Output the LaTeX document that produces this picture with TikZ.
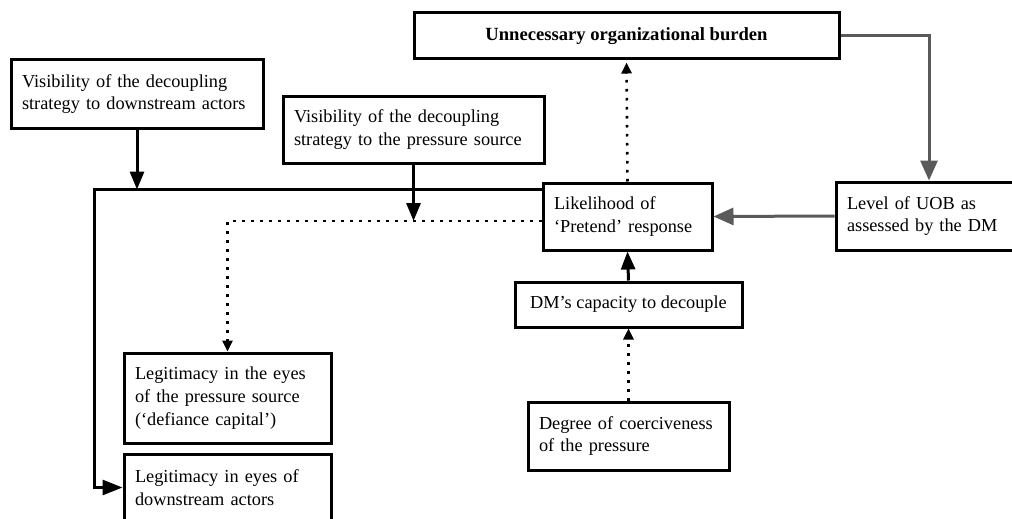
\documentclass[tikz,border=0pt]{standalone}
\usepackage{fontspec}
\setmainfont{Liberation Serif}
\usetikzlibrary{arrows.meta,calc}
\definecolor{arrgray}{RGB}{90,90,90}
\begin{document}
\begin{tikzpicture}[x=1pt,y=-1pt,
  box/.style={draw=black, line width=3pt, inner xsep=11pt, inner ysep=4pt,
    font=\fontsize{18.3}{22.8}\selectfont, align=left},
  conn/.style={line width=3pt},
  arr/.style={conn, -{Triangle[length=18pt,width=14pt]}},
  dotarr/.style={line width=2.6pt, dash pattern=on 2.6pt off 6.4pt, -{Triangle[length=11pt,width=10pt]}},
  grayarr/.style={draw=arrgray, line width=3pt, -{Triangle[length=20pt,width=17pt]}},
]
\useasboundingbox (0,0) rectangle (1012,519);

\node[box, align=center, minimum width=425pt, minimum height=46pt, font=\fontsize{18.6}{22}\selectfont\bfseries] (U) at (626.5,36) {Unnecessary organizational burden};
\node[box, text width=230pt, minimum height=68pt] (A) at (137,94) {Visibility of the decoupling\\strategy to downstream actors};
\node[box, text width=239pt, minimum height=67pt] (B) at (413.5,129.5) {Visibility of the decoupling\\strategy to the pressure source};
\node[box, text width=147pt, minimum height=67pt] (L) at (627.5,216.5) {Likelihood of\\‘Pretend’ response};
\node[box, text width=170pt, minimum height=68pt] (Lev) at (932,216) {Level of UOB as\\assessed by the DM};
\node[box, align=center, minimum width=227pt, minimum height=45pt] (DM) at (628.5,304.5) {DM’s capacity to decouple};
\node[box, text width=179pt, minimum height=68pt] (Deg) at (628.5,436) {Degree of coerciveness\\of the pressure};
\node[box, text width=185pt, minimum height=90pt] (Leg1) at (227.5,398) {Legitimacy in the eyes\\of the pressure source\\(‘defiance capital’)};
\node[box, text width=185pt, minimum height=67pt] (Leg2) at (227.5,487.5) {Legitimacy in eyes of\\downstream actors};

\coordinate (jl) at ($(L.north west)+(0,8)$);
\coordinate (jd) at ($(L.west)+(0,4.5)$);

\draw[conn, -{Triangle[length=20pt,width=15pt]}] (jl) -| ([xshift=-28pt]Leg2.west) -- (Leg2.west);
\draw[arr] (A.south) -- (A.south |- jl);
\draw[dotarr] (jd) -| (Leg1.north);
\draw[arr] (B.south) -- (B.south |- jd);
\draw[dotarr, shorten >=2pt] (L.north) -- (U.south);
\draw[arr] (DM.north) -- (L.south);
\draw[dotarr] (Deg.north) -- (DM.south);
\draw[grayarr] (U.east) -| ([xshift=-3pt]Lev.north);
\draw[grayarr] (Lev.west) -- (L.east);
\end{tikzpicture}
\end{document}
